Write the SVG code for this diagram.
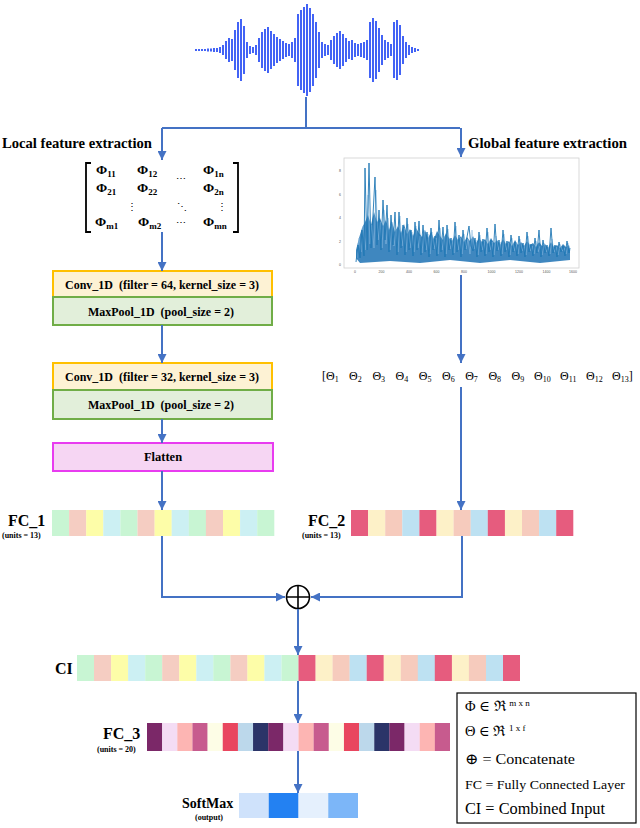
<svg xmlns="http://www.w3.org/2000/svg" width="640" height="828" viewBox="0 0 640 828">
<defs>
<marker id="ah" viewBox="0 0 10 10" refX="10" refY="5" markerWidth="9" markerHeight="9" markerUnits="userSpaceOnUse" orient="auto"><path d="M0,0 L10,5 L0,10 z" fill="#4472c4"/></marker>
</defs>
<style>
.t{font-family:"Liberation Serif","DejaVu Serif",serif;fill:#000}
.b{font-weight:bold}
.ln{fill:none;stroke:#4472c4;stroke-width:2}
.conv{fill:#fdf2d4;stroke:#ffc000;stroke-width:2}
.pool{fill:#e2efda;stroke:#70ad47;stroke-width:2}
.flat{fill:#f6d6f3;stroke:#e83cf0;stroke-width:2}
.g{fill:#c8f5d3}.s{fill:#f5cdc2}.y{fill:#fdfda8}.lb{fill:#ccf0f3}
.r{fill:#e65c7e}.c{fill:#fdf1c8}.s2{fill:#f6cbbd}.b2{fill:#bde1f2}
.p{fill:#7b2868}.lp{fill:#f4dcf4}.pk{fill:#fdb5b3}.m{fill:#c75b8e}.cr{fill:#fdfde6}.rd{fill:#e9465f}.l3{fill:#bcd8eb}.nv{fill:#2b3468}
.tick{font-family:"Liberation Sans",sans-serif;font-size:3.5px;fill:#555}
</style>

<g id="waveform">
<path fill="none" stroke="#3a5cf5" stroke-width="1.9" d="M196 49V51M199 49V51M202 49V51M205 49V51M208 48.5V51.5M211 48.5V51.5M214 48V52M217 48V52M220 47V53M223 45V55M226 41V59M229 38V62M232 39V61M235 30V70M238 22V78M241 19V81M244 26V74M247 42V58M250 46V54M253 47V53M256 45V55M259 38V62M262 32V68M265 29V71M268 27V73M271 31V69M274 34V66M277 37V63M280 39V61M283 41V59M286 43V57M289 44V56M292 42V58M295 38V62M298 14V86M301 10V90M304 7V93M307 4V96M310 8V92M313 14V86M316 22V78M319 32V68M322 42V58M325 44V56M328 45V55M331 40V60M334 36V64M337 33V67M340 31V69M343 34V66M346 38V62M349 41V59M352 40V60M355 43V57M358 44V56M361 43V57M364 42V58M367 40V60M370 22V78M373 18V82M376 21V79M379 28V72M382 35V65M385 40V60M388 42V58M391 44V56M394 22V78M397 20V80M400 25V75M403 36V64M406 42V58M409 45V55M412 47V53M415 48V52M418 49V51"/>
</g>

<g id="label-local"><text class="t b" x="2" y="148" font-size="14" textLength="150" lengthAdjust="spacingAndGlyphs">Local feature extraction</text></g>
<g id="label-global"><text class="t b" x="468" y="148" font-size="14" textLength="159" lengthAdjust="spacingAndGlyphs">Global feature extraction</text></g>

<g id="matrix">
<path d="M91 163H86V232H91M233 163H238V232H233" fill="none" stroke="#000" stroke-width="1.8"/>
<g class="t b" font-size="13.5">
<text x="96" y="174">Φ<tspan font-size="9" dy="2.5">11</tspan></text>
<text x="137" y="174">Φ<tspan font-size="9" dy="2.5">12</tspan></text>
<text x="203" y="174">Φ<tspan font-size="9" dy="2.5">1n</tspan></text>
<text x="96" y="192">Φ<tspan font-size="9" dy="2.5">21</tspan></text>
<text x="137" y="192">Φ<tspan font-size="9" dy="2.5">22</tspan></text>
<text x="203" y="192">Φ<tspan font-size="9" dy="2.5">2n</tspan></text>
<text x="95" y="226">Φ<tspan font-size="9" dy="2.5">m1</tspan></text>
<text x="138" y="226">Φ<tspan font-size="9" dy="2.5">m2</tspan></text>
<text x="203" y="226">Φ<tspan font-size="9" dy="2.5">mn</tspan></text>
</g>
<g class="t" font-size="10">
<text x="176" y="182">⋯</text>
<text x="127" y="210">⋮</text>
<text x="177" y="210">⋱</text>
<text x="217" y="210">⋮</text>
<text x="176" y="226">⋯</text>
</g>
</g>

<g id="spectrum">
<rect x="344" y="158" width="235" height="110" fill="#fff" stroke="#d0d0d0" stroke-width="0.8"/>
<polygon fill="#2a7ab8" opacity="0.9" points="356,250 359,238 362,228 365,222 368,215 371,225 374,212 377,222 380,218 383,226 386,220 389,230 392,222 395,232 398,226 401,233 404,224 407,234 410,229 413,236 416,228 419,233 422,237 425,230 428,238 431,232 434,239 437,231 440,236 443,240 446,233 449,238 452,241 455,235 458,240 461,236 464,242 467,237 470,241 473,236 476,243 479,238 482,242 485,239 488,244 491,238 494,243 497,240 500,245 503,239 506,244 509,241 512,246 515,240 518,245 521,242 524,246 527,241 530,245 533,243 536,247 539,242 542,246 545,244 548,248 551,242 554,247 557,245 560,248 563,244 566,247 569,245 570,250 570,260 540,263 510,260 480,263 450,260 420,263 390,261 360,263 356,258"/>
<polyline fill="none" stroke="#8dbde3" stroke-width="0.7" opacity="0.8" points="357,258 359,238 361,252 363,226 366,250 368,195 370,244 372,225 374,248 376,190 378,240 380,222 382,248 384,210 386,244 388,218 390,250 392,222 394,246 396,230 398,252 400,216 402,246 404,228 406,252 408,224 410,248 412,232 414,252 416,226 418,248 420,236 422,253 424,230 426,250 428,234 430,254 432,232 434,249 436,238 438,254 440,228 442,250 444,236 446,254 448,229 450,249 452,240 454,253 456,226 458,250 460,238 462,254 464,234 466,249 468,239 470,254 472,230 474,249 476,240 478,255 480,235 482,250 484,241 486,254 488,232 490,250 492,242 494,255 496,236 498,250 500,242 502,254 504,234 506,250 508,243 510,255 512,238 514,251 516,243 518,254 520,239 522,251 524,245 526,255 528,236 530,251 532,246 534,254 536,241 538,252 540,246 542,255 544,243 546,252 548,247 550,254 552,239 554,252 556,247 558,255 560,244 562,251 564,248 566,254 568,243 570,251"/>
<polyline fill="none" stroke="#1f77b4" stroke-width="0.9" points="356,262 358,245 360,258 362,230 364,256 365,168 367,250 369,163 371,248 373,215 375,177 377,245 379,210 381,250 383,200 385,240 387,205 389,252 391,215 393,245 395,212 397,255 399,212 401,248 403,225 405,255 407,218 409,250 411,230 413,256 415,222 417,250 419,221 421,255 423,225 425,252 427,232 429,257 431,228 433,250 435,236 437,256 439,220 441,252 443,227 445,257 447,225 449,250 451,238 453,255 455,222 457,252 459,235 461,257 463,230 465,250 467,237 469,226 471,246 473,251 475,238 477,257 479,232 481,252 483,239 485,256 487,228 489,252 491,240 493,257 495,224 497,251 499,240 501,256 503,230 505,252 507,241 509,257 511,235 513,252 515,242 517,256 519,236 521,253 523,243 525,257 527,232 529,252 531,244 533,256 535,238 537,253 539,230 541,257 543,240 545,253 547,245 549,256 551,228 553,253 555,245 557,257 559,242 561,252 563,246 565,256 567,241 569,253 570,248"/>
<g class="tick" text-anchor="middle">
<text x="355" y="273">0</text><text x="381.5" y="273">200</text><text x="409" y="273">400</text><text x="436.5" y="273">600</text><text x="464" y="273">800</text><text x="491.5" y="273">1000</text><text x="519" y="273">1200</text><text x="546.5" y="273">1400</text><text x="573" y="273">1600</text>
</g>
<g class="tick" text-anchor="end">
<text x="341" y="266">0</text><text x="341" y="243">2</text><text x="341" y="219">4</text><text x="341" y="196">6</text><text x="341" y="172">8</text>
</g>
</g>

<g id="conv1">
<rect class="conv" x="53" y="271" width="219" height="26"/>
<text class="t b" x="162" y="289" font-size="12.5" text-anchor="middle" textLength="194" lengthAdjust="spacingAndGlyphs" xml:space="preserve">Conv_1D  (filter = 64, kernel_size = 3)</text>
</g>
<g id="pool1">
<rect class="pool" x="53" y="297" width="219" height="28"/>
<text class="t b" x="161" y="316" font-size="12.5" text-anchor="middle" textLength="146" lengthAdjust="spacingAndGlyphs" xml:space="preserve">MaxPool_1D  (pool_size = 2)</text>
</g>
<g id="conv2">
<rect class="conv" x="53" y="363" width="219" height="27"/>
<text class="t b" x="162" y="381" font-size="12.5" text-anchor="middle" textLength="194" lengthAdjust="spacingAndGlyphs" xml:space="preserve">Conv_1D  (filter = 32, kernel_size = 3)</text>
</g>
<g id="pool2">
<rect class="pool" x="53" y="390" width="219" height="29"/>
<text class="t b" x="161" y="409" font-size="12.5" text-anchor="middle" textLength="146" lengthAdjust="spacingAndGlyphs" xml:space="preserve">MaxPool_1D  (pool_size = 2)</text>
</g>
<g id="flatten">
<rect class="flat" x="53" y="443" width="220" height="28"/>
<text class="t b" x="163" y="461" font-size="12.5" text-anchor="middle">Flatten</text>
</g>

<g id="theta">
<text class="t" y="380" font-size="12"><tspan x="322">[Θ<tspan font-size="8" dy="2">1</tspan></tspan><tspan x="349" dy="-2">Θ<tspan font-size="8" dy="2">2</tspan></tspan><tspan x="372.4" dy="-2">Θ<tspan font-size="8" dy="2">3</tspan></tspan><tspan x="395.6" dy="-2">Θ<tspan font-size="8" dy="2">4</tspan></tspan><tspan x="418.8" dy="-2">Θ<tspan font-size="8" dy="2">5</tspan></tspan><tspan x="442" dy="-2">Θ<tspan font-size="8" dy="2">6</tspan></tspan><tspan x="465.2" dy="-2">Θ<tspan font-size="8" dy="2">7</tspan></tspan><tspan x="488.4" dy="-2">Θ<tspan font-size="8" dy="2">8</tspan></tspan><tspan x="511.6" dy="-2">Θ<tspan font-size="8" dy="2">9</tspan></tspan><tspan x="534" dy="-2">Θ<tspan font-size="8" dy="2">10</tspan></tspan><tspan x="560" dy="-2">Θ<tspan font-size="8" dy="2">11</tspan></tspan><tspan x="586" dy="-2">Θ<tspan font-size="8" dy="2">12</tspan></tspan><tspan x="612" dy="-2">Θ<tspan font-size="8" dy="2">13</tspan><tspan dy="-2">]</tspan></tspan></text>
</g>

<g id="fc1">
<text class="t b" x="8" y="526" font-size="16">FC_1</text>
<text class="t b" x="2" y="538" font-size="8">(units = 13)</text>
<rect class="g" x="52" y="510" width="17.2" height="26"/><rect class="s" x="69.1" y="510" width="17.2" height="26"/><rect class="y" x="86.2" y="510" width="17.2" height="26"/><rect class="lb" x="103.3" y="510" width="17.2" height="26"/><rect class="g" x="120.4" y="510" width="17.2" height="26"/><rect class="s" x="137.5" y="510" width="17.2" height="26"/><rect class="y" x="154.6" y="510" width="17.2" height="26"/><rect class="lb" x="171.7" y="510" width="17.2" height="26"/><rect class="g" x="188.8" y="510" width="17.2" height="26"/><rect class="s" x="205.9" y="510" width="17.2" height="26"/><rect class="y" x="223" y="510" width="17.2" height="26"/><rect class="lb" x="240.1" y="510" width="17.2" height="26"/><rect class="g" x="257.2" y="510" width="17.1" height="26"/>
</g>

<g id="fc2">
<text class="t b" x="308" y="526" font-size="16">FC_2</text>
<text class="t b" x="302" y="538" font-size="8">(units = 13)</text>
<rect class="r" x="351" y="510" width="17.2" height="26"/><rect class="c" x="368.1" y="510" width="17.2" height="26"/><rect class="s2" x="385.2" y="510" width="17.2" height="26"/><rect class="b2" x="402.3" y="510" width="17.2" height="26"/><rect class="r" x="419.4" y="510" width="17.2" height="26"/><rect class="c" x="436.5" y="510" width="17.2" height="26"/><rect class="s2" x="453.6" y="510" width="17.2" height="26"/><rect class="b2" x="470.7" y="510" width="17.2" height="26"/><rect class="r" x="487.8" y="510" width="17.2" height="26"/><rect class="c" x="504.9" y="510" width="17.2" height="26"/><rect class="s2" x="522" y="510" width="17.2" height="26"/><rect class="b2" x="539.1" y="510" width="17.2" height="26"/><rect class="r" x="556.2" y="510" width="17.1" height="26"/>
</g>

<g id="concat">
<circle cx="298" cy="597" r="11.5" fill="#fff" stroke="#000" stroke-width="1.6"/>
<path d="M286.5 597H309.5M298 585.5V608.5" stroke="#000" stroke-width="1.6"/>
</g>

<g id="ci">
<text class="t b" x="55" y="674" font-size="16">CI</text>
<rect class="g" x="77" y="655" width="17.2" height="26"/><rect class="s" x="94" y="655" width="17.2" height="26"/><rect class="y" x="111.1" y="655" width="17.2" height="26"/><rect class="lb" x="128.1" y="655" width="17.2" height="26"/><rect class="g" x="145.2" y="655" width="17.2" height="26"/><rect class="s" x="162.2" y="655" width="17.2" height="26"/><rect class="y" x="179.2" y="655" width="17.2" height="26"/><rect class="lb" x="196.3" y="655" width="17.2" height="26"/><rect class="g" x="213.3" y="655" width="17.2" height="26"/><rect class="s" x="230.4" y="655" width="17.2" height="26"/><rect class="y" x="247.4" y="655" width="17.2" height="26"/><rect class="lb" x="264.4" y="655" width="17.2" height="26"/><rect class="g" x="281.5" y="655" width="17.1" height="26"/>
<rect class="r" x="298.5" y="655" width="17.2" height="26"/><rect class="c" x="315.6" y="655" width="17.2" height="26"/><rect class="s2" x="332.6" y="655" width="17.2" height="26"/><rect class="b2" x="349.6" y="655" width="17.2" height="26"/><rect class="r" x="366.7" y="655" width="17.2" height="26"/><rect class="c" x="383.7" y="655" width="17.2" height="26"/><rect class="s2" x="400.8" y="655" width="17.2" height="26"/><rect class="b2" x="417.8" y="655" width="17.2" height="26"/><rect class="r" x="434.8" y="655" width="17.2" height="26"/><rect class="c" x="451.9" y="655" width="17.2" height="26"/><rect class="s2" x="468.9" y="655" width="17.2" height="26"/><rect class="b2" x="486" y="655" width="17.2" height="26"/><rect class="r" x="503" y="655" width="17" height="26"/>
</g>

<g id="fc3">
<text class="t b" x="103" y="739" font-size="16">FC_3</text>
<text class="t b" x="97" y="752" font-size="8">(units = 20)</text>
<rect class="p" x="147" y="723" width="15.25" height="28"/><rect class="lp" x="162.15" y="723" width="15.25" height="28"/><rect class="pk" x="177.3" y="723" width="15.25" height="28"/><rect class="m" x="192.45" y="723" width="15.25" height="28"/><rect class="cr" x="207.6" y="723" width="15.25" height="28"/><rect class="rd" x="222.75" y="723" width="15.25" height="28"/><rect class="l3" x="237.9" y="723" width="15.25" height="28"/><rect class="nv" x="253.05" y="723" width="15.25" height="28"/><rect class="p" x="268.2" y="723" width="15.25" height="28"/><rect class="lp" x="283.35" y="723" width="15.25" height="28"/><rect class="pk" x="298.5" y="723" width="15.25" height="28"/><rect class="m" x="313.65" y="723" width="15.25" height="28"/><rect class="cr" x="328.8" y="723" width="15.25" height="28"/><rect class="rd" x="343.95" y="723" width="15.25" height="28"/><rect class="l3" x="359.1" y="723" width="15.25" height="28"/><rect class="nv" x="374.25" y="723" width="15.25" height="28"/><rect class="p" x="389.4" y="723" width="15.25" height="28"/><rect class="lp" x="404.55" y="723" width="15.25" height="28"/><rect class="pk" x="419.7" y="723" width="15.25" height="28"/><rect class="m" x="434.85" y="723" width="15.15" height="28"/>
</g>

<g id="softmax">
<text class="t b" x="182" y="808" font-size="14">SoftMax</text>
<text class="t b" x="195" y="820" font-size="8">(output)</text>
<rect x="239" y="793" width="29.85" height="25" fill="#cfe2fb"/><rect x="268.75" y="793" width="29.85" height="25" fill="#2381f2"/><rect x="298.5" y="793" width="29.85" height="25" fill="#e5f0fd"/><rect x="328.25" y="793" width="29.75" height="25" fill="#7cb6f8"/>
</g>

<g id="legend">
<rect x="457" y="693" width="179" height="130" fill="#fff" stroke="#000" stroke-width="1.2"/>
<g class="t">
<text x="465" y="711" font-size="14.5">Φ ∈ ℜ <tspan font-size="9" dy="-5">m x n</tspan></text>
<text x="465" y="736" font-size="14.5">Θ ∈ ℜ <tspan font-size="9" dy="-5">1 x f</tspan></text>
<text x="465" y="764" font-size="15.5" textLength="110" lengthAdjust="spacingAndGlyphs">⊕ = Concatenate</text>
<text x="465" y="789" font-size="13" textLength="160" lengthAdjust="spacingAndGlyphs">FC = Fully Connected Layer</text>
<text x="465" y="814" font-size="16" textLength="140" lengthAdjust="spacingAndGlyphs">CI = Combined Input</text>
</g>
</g>

<g id="connectors">
<path class="ln" d="M306 97V128M162 128H460"/>
<path class="ln" d="M162 128V160" marker-end="url(#ah)"/>
<path class="ln" d="M461 128V157" marker-end="url(#ah)"/>
<path class="ln" d="M162 232V271" marker-end="url(#ah)"/>
<path class="ln" d="M162 325V363" marker-end="url(#ah)"/>
<path class="ln" d="M162 419V443" marker-end="url(#ah)"/>
<path class="ln" d="M162 471V510" marker-end="url(#ah)"/>
<path class="ln" d="M461 275V363" marker-end="url(#ah)"/>
<path class="ln" d="M461 387V510" marker-end="url(#ah)"/>
<path class="ln" d="M162 536V597H285" marker-end="url(#ah)"/>
<path class="ln" d="M462 536V597H311" marker-end="url(#ah)"/>
<path class="ln" d="M298 609V655" marker-end="url(#ah)"/>
<path class="ln" d="M298 681V723" marker-end="url(#ah)"/>
<path class="ln" d="M298 751V793" marker-end="url(#ah)"/>
</g>
</svg>
